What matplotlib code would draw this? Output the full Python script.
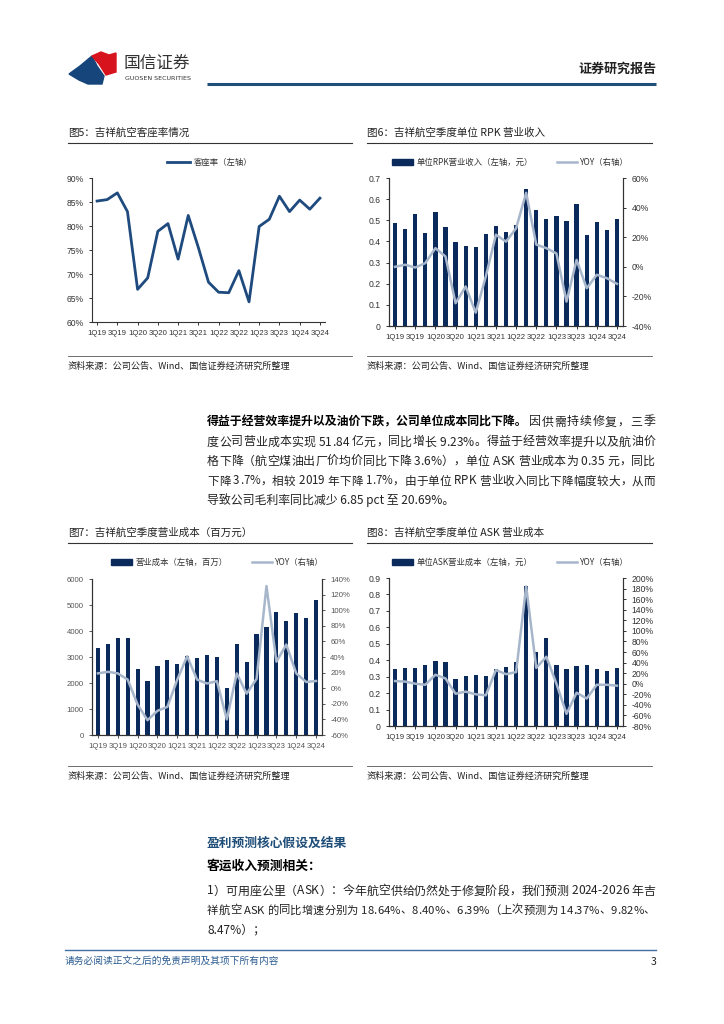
import matplotlib
matplotlib.use('Agg')
import matplotlib.pyplot as plt
from matplotlib.patches import Polygon, Rectangle
from matplotlib.font_manager import FontProperties
import numpy as np

plt.rcParams['font.family'] = ['Noto Sans CJK SC', 'DejaVu Sans']
plt.rcParams['axes.unicode_minus'] = False

W, H = 724, 1024

# ---- data ----
quarters = ['1Q19', '2Q19', '3Q19', '4Q19', '1Q20', '2Q20', '3Q20', '4Q20',
            '1Q21', '2Q21', '3Q21', '4Q21', '1Q22', '2Q22', '3Q22', '4Q22',
            '1Q23', '2Q23', '3Q23', '4Q23', '1Q24', '2Q24', '3Q24']

load_factor = [85.2, 85.5, 86.9, 83.0, 66.8, 69.2, 78.9, 80.5, 73.1, 82.2, 75.5, 68.3,
               66.2, 66.1, 70.7, 64.2, 79.9, 81.4, 86.2, 83.0, 85.4, 83.5, 85.8]

rpk_rev = [0.485, 0.46, 0.53, 0.44, 0.54, 0.47, 0.395, 0.38, 0.375, 0.435, 0.475, 0.445,
           0.48, 0.65, 0.55, 0.505, 0.52, 0.495, 0.575, 0.43, 0.49, 0.455, 0.505]
rpk_yoy = [0.0, 1.4, -0.5, 2.5, 12.6, 7.0, -24.6, -13.3, -31.0, -6.5, 21.7, 17.0,
           26.0, 50.0, 15.0, 12.6, 9.0, -23.5, 4.7, -14.5, -5.4, -7.7, -11.5]

op_cost = [3360, 3510, 3740, 3740, 2550, 2090, 2670, 2880, 2740, 3020, 2950, 3070,
           3010, 1810, 3500, 2820, 3900, 4150, 4740, 4390, 4710, 4510, 5184]
op_cost_yoy = [19, 21, 19, 11, -21, -41, -29, -24, 11, 41, 11, 6,
               9, -40, 19, -7, 12, 131, 34, 56, 19, 8, 9.23]

ask_cost = [0.345, 0.355, 0.355, 0.373, 0.393, 0.387, 0.283, 0.305, 0.31, 0.303, 0.344, 0.358,
            0.39, 0.85, 0.45, 0.533, 0.373, 0.344, 0.362, 0.373, 0.346, 0.332, 0.35]
ask_cost_yoy = [5, 4, 0, -2, 17, 10, -19, -15, -20, -22, 26, 18,
                22, 184, 30, 51, 0, -57, -17, -28, -2, -2, -3.7]

NAVY = '#0b2a5c'
LINE_BLUE = '#1e4a7e'
GREY_BLUE = '#a7b6cb'
HEAD_BLUE = '#1f4e79'
TXT = '#222222'
TICK_FONT = ['Liberation Sans Narrow', 'Liberation Sans']

fig = plt.figure(figsize=(W / 100, H / 100), dpi=100)
bg = fig.add_axes([0, 0, 1, 1])
bg.set_xlim(0, W)
bg.set_ylim(H, 0)
bg.axis('off')
renderer = fig.canvas.get_renderer()


def box(l, t, r, b):
    return [l / W, 1 - b / H, (r - l) / W, (b - t) / H]


def style_axis(ax, size=6.2, color='#333333'):
    ax.spines['top'].set_visible(False)
    for s in ['left', 'bottom', 'right']:
        ax.spines[s].set_color('#333333')
        ax.spines[s].set_linewidth(0.8)
    ax.tick_params(labelsize=size, length=2.5, width=0.7, colors=color,
                   labelfontfamily=TICK_FONT)
    ax.tick_params(axis='x', labelsize=5.6)


def text_width(s, size, weight='normal'):
    prop = FontProperties(family=['Noto Sans CJK SC', 'DejaVu Sans'], size=size, weight=weight)
    w, _, _ = renderer.get_text_width_height_descent(s, prop, ismath=False)
    return w


def justified(x0, x1, y, s, size, weight='normal', color=TXT):
    # spread the characters so the line runs from x0 to x1
    natural = sum(text_width(c, size, weight) for c in s)
    if natural > (x1 - x0):
        size = size * (x1 - x0) / natural * 0.985
    widths = [text_width(c, size, weight) for c in s]
    gap = (x1 - x0 - sum(widths)) / (len(s) - 1)
    xc = x0
    for c, w in zip(s, widths):
        bg.text(xc, y, c, fontsize=size, weight=weight, color=color, va='center')
        xc += w + gap


# ---- header ----
bg.add_patch(Polygon([(69, 74), (80, 66), (92, 56), (97, 66), (104, 76), (102, 84), (88, 84), (79, 80)],
                     closed=True, color='#15457a'))
bg.add_patch(Polygon([(92, 56), (101, 52), (109, 55), (116, 53), (116, 72), (106, 75), (99, 64)],
                     closed=True, color='#d7131e'))
bg.text(124, 63, '国信证券', fontsize=12, color='#333333', va='center')
bg.text(125, 78, 'GUOSEN SECURITIES', fontsize=4.6, color='#333333', va='center',
        family='DejaVu Sans')
bg.text(656, 69, '证券研究报告', fontsize=9.4, weight='bold', color=TXT, va='center', ha='right')
bg.plot([207, 656], [84, 84], color=HEAD_BLUE, lw=2.2, solid_capstyle='butt')

# ---- chart titles / sources ----
titles = [(68, 133, '图5：吉祥航空客座率情况'), (367, 133, '图6：吉祥航空季度单位 RPK 营业收入'),
          (68, 533, '图7：吉祥航空季度营业成本（百万元）'), (367, 533, '图8：吉祥航空季度单位 ASK 营业成本')]
for x0, y0, t in titles:
    bg.text(x0, y0, t, fontsize=7.6, color=TXT, va='center')
for y0 in [143, 543]:
    bg.plot([68, 352], [y0, y0], color='#333333', lw=0.8)
    bg.plot([367, 652], [y0, y0], color='#333333', lw=0.8)
for y0 in [356, 766]:
    bg.plot([68, 352], [y0, y0], color='#555555', lw=0.6)
    bg.plot([367, 652], [y0, y0], color='#555555', lw=0.6)
    bg.text(68, y0 + 10, '资料来源：公司公告、Wind、国信证券经济研究所整理', fontsize=6.6, color=TXT, va='center')
    bg.text(367, y0 + 10, '资料来源：公司公告、Wind、国信证券经济研究所整理', fontsize=6.6, color=TXT, va='center')


def legend_bar_line(xb, xl, y, lab_bar, lab_line):
    bg.add_patch(Rectangle((xb, y - 3), 21, 6, color=NAVY))
    bg.text(xb + 25, y, lab_bar, fontsize=6, color='#333333', va='center')
    bg.plot([xl, xl + 20], [y, y], color=GREY_BLUE, lw=1.8)
    bg.text(xl + 23, y, lab_line, fontsize=6, color='#333333', va='center')


x = np.arange(len(quarters))

# ---- chart 5 ----
ax5 = fig.add_axes(box(92, 178, 325, 322))
ax5.plot(x, load_factor, color=LINE_BLUE, lw=2)
ax5.set_xlim(-0.5, 22.5)
ax5.set_ylim(60, 90)
ax5.set_yticks(range(60, 91, 5))
ax5.set_yticklabels(['%d%%' % v for v in range(60, 91, 5)])
ax5.set_xticks(x[::2])
ax5.set_xticklabels(quarters[::2])
style_axis(ax5)
ax5.spines['right'].set_visible(False)
bg.plot([167, 190], [162, 162], color=LINE_BLUE, lw=2)
bg.text(194, 162, '客座率（左轴）', fontsize=6, color='#333333', va='center')

# ---- chart 6 ----
ax6 = fig.add_axes(box(389, 178, 623, 326))
ax6.bar(x, rpk_rev, width=0.42, color=NAVY)
ax6.set_xlim(-0.6, 22.6)
ax6.set_ylim(0, 0.7)
ax6.set_yticks(np.arange(0, 0.71, 0.1))
ax6.set_yticklabels(['0'] + ['%.1f' % v for v in np.arange(0.1, 0.71, 0.1)])
ax6.set_xticks(x[::2])
ax6.set_xticklabels(quarters[::2])
ax6r = ax6.twinx()
ax6r.plot(x, rpk_yoy, color=GREY_BLUE, lw=1.8)
ax6r.set_ylim(-40, 60)
ax6r.set_yticks(range(-40, 61, 20))
ax6r.set_yticklabels(['%d%%' % v for v in range(-40, 61, 20)])
style_axis(ax6)
style_axis(ax6r)
legend_bar_line(392, 557, 162, '单位RPK营业收入（左轴，元）', 'YOY（右轴）')

# ---- chart 7 ----
ax7 = fig.add_axes(box(92, 579, 322, 735))
ax7.bar(x, op_cost, width=0.42, color=NAVY)
ax7.set_xlim(-0.6, 22.6)
ax7.set_ylim(0, 6000)
ax7.set_yticks(range(0, 6001, 1000))
ax7.set_xticks(x[::2])
ax7.set_xticklabels(quarters[::2])
ax7r = ax7.twinx()
ax7r.plot(x, op_cost_yoy, color=GREY_BLUE, lw=1.8)
ax7r.set_ylim(-60, 140)
ax7r.set_yticks(range(-60, 141, 20))
ax7r.set_yticklabels(['%d%%' % v for v in range(-60, 141, 20)])
style_axis(ax7, size=5.6, color='#555555')
style_axis(ax7r, size=5.6, color='#555555')
legend_bar_line(111, 252, 562, '营业成本（左轴，百万）', 'YOY（右轴）')

# ---- chart 8 ----
ax8 = fig.add_axes(box(389, 578, 623, 726))
ax8.bar(x, ask_cost, width=0.42, color=NAVY)
ax8.set_xlim(-0.6, 22.6)
ax8.set_ylim(0, 0.9)
ax8.set_yticks(np.arange(0, 0.91, 0.1))
ax8.set_yticklabels(['0'] + ['%.1f' % v for v in np.arange(0.1, 0.91, 0.1)])
ax8.set_xticks(x[::2])
ax8.set_xticklabels(quarters[::2])
ax8r = ax8.twinx()
ax8r.plot(x, ask_cost_yoy, color=GREY_BLUE, lw=1.8)
ax8r.set_ylim(-80, 200)
ax8r.set_yticks(range(-80, 201, 20))
ax8r.set_yticklabels(['%d%%' % v for v in range(-80, 201, 20)])
style_axis(ax8)
style_axis(ax8r)
legend_bar_line(392, 557, 562, '单位ASK营业成本（左轴，元）', 'YOY（右轴）')

# ---- body text ----
fs = 8.6
L, R = 207, 655
bold_part = '得益于经营效率提升以及油价下跌，公司单位成本同比下降。'
rest_part = '因供需持续修复，三季'
bw = text_width(bold_part, fs, 'bold')
bg.text(L, 422, bold_part, fontsize=fs, weight='bold', color='black', va='center')
justified(L + bw + 1, R, 422, rest_part, fs)
para = ['度公司营业成本实现 51.84 亿元，同比增长 9.23%。得益于经营效率提升以及航油价',
        '格下降（航空煤油出厂价均价同比下降 3.6%），单位 ASK 营业成本为 0.35 元，同比',
        '下降 3.7%，相较 2019 年下降 1.7%，由于单位 RPK 营业收入同比下降幅度较大，从而']
for i, line in enumerate(para):
    justified(L, R, 442 + 19.5 * i, line, fs)
bg.text(L, 442 + 19.5 * 3, '导致公司毛利率同比减少 6.85 pct 至 20.69%。', fontsize=fs, color=TXT, va='center')

bg.text(L, 843, '盈利预测核心假设及结果', fontsize=9.2, weight='bold', color=HEAD_BLUE, va='center')
bg.text(L, 866, '客运收入预测相关：', fontsize=9.2, weight='bold', color='black', va='center')
lines2 = ['1）可用座公里（ASK）：今年航空供给仍然处于修复阶段，我们预测 2024-2026 年吉',
          '祥航空 ASK 的同比增速分别为 18.64%、8.40%、6.39%（上次预测为 14.37%、9.82%、']
for i, line in enumerate(lines2):
    justified(L, R, 891 + 19.5 * i, line, fs)
bg.text(L, 891 + 19.5 * 2, '8.47%）；', fontsize=fs, color=TXT, va='center')

# ---- footer ----
bg.plot([65, 656], [950, 950], color='#3f6fa3', lw=1)
bg.text(65, 961, '请务必阅读正文之后的免责声明及其项下所有内容', fontsize=7, color='#2b5c91', va='center')
bg.text(656, 962, '3', fontsize=7.5, color=TXT, va='center', ha='right')

fig.savefig('out.png', dpi=100)
